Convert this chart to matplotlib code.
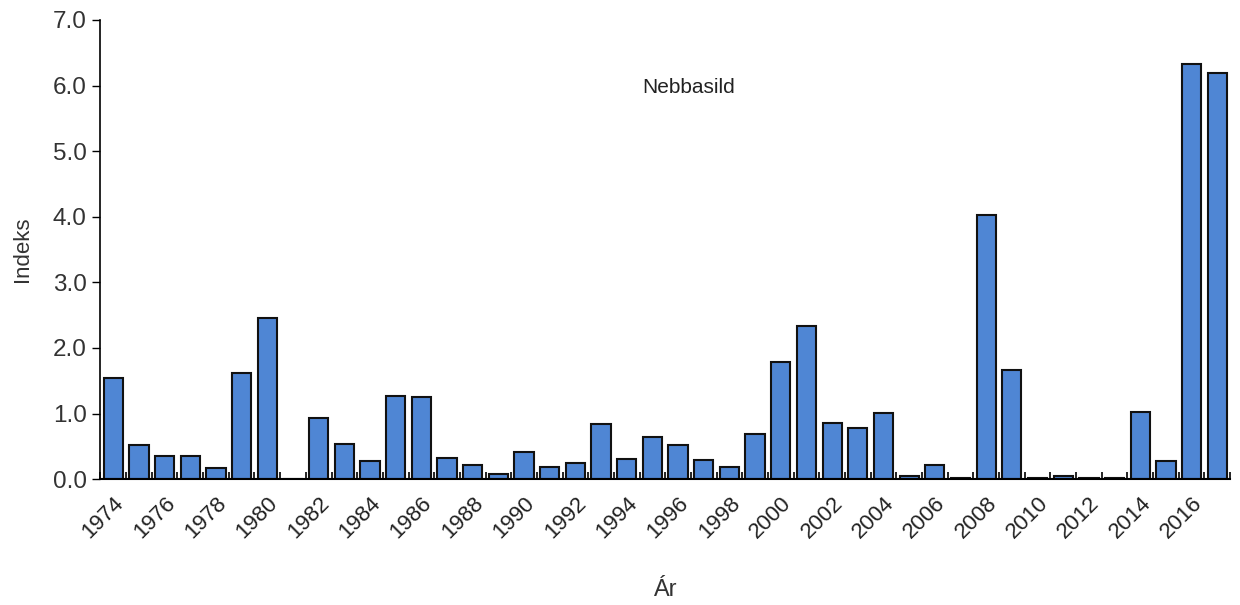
import matplotlib.pyplot as plt
import numpy as np

plt.rcParams['font.family'] = ['Liberation Sans', 'DejaVu Sans']

# Nebbasild indeks per ár
aar = list(range(1974, 2018))
indeks = [1.54, 0.52, 0.35, 0.35, 0.17, 1.62, 2.45, 0.0, 0.93, 0.54,
          0.27, 1.27, 1.25, 0.32, 0.22, 0.08, 0.42, 0.19, 0.25, 0.84,
          0.30, 0.64, 0.52, 0.29, 0.19, 0.69, 1.79, 2.33, 0.86, 0.78,
          1.01, 0.05, 0.22, 0.02, 4.02, 1.67, 0.02, 0.05, 0.02, 0.02,
          1.03, 0.27, 6.33, 6.19]
y_ticks = [0, 1, 2, 3, 4, 5, 6, 7]

fig = plt.figure(figsize=(12.4, 6.05), dpi=100)
ax = fig.add_axes([0.081, 0.208, 0.911, 0.759])

x = np.arange(len(aar))
ax.bar(x, indeks, width=0.75, color='#4F86D4', edgecolor='#111111', linewidth=1.5)

ax.set_xlim(-0.5, len(aar) - 0.5)
ax.set_ylim(0, 7)
ax.set_yticks(y_ticks)
ax.set_yticklabels([f'{v:.1f}' for v in y_ticks], fontsize=17.5, color='#333333')
ax.tick_params(axis='y', direction='out', length=6, width=1, pad=4)

# ár-merki á hvert annað ár
ax.set_xticks(x[::2])
ax.set_xticklabels([str(a) for a in aar[::2]], rotation=45, ha='right',
                   rotation_mode='anchor', fontsize=16, color='#222222')
ax.tick_params(axis='x', length=0, pad=10)
# smá strik milli stabbanna
ax.set_xticks(np.arange(-0.5, len(aar)), minor=True)
ax.tick_params(axis='x', which='minor', direction='in', length=5, width=1.2)

for s in ['top', 'right']:
    ax.spines[s].set_visible(False)
ax.spines['left'].set_linewidth(1.2)
ax.spines['bottom'].set_linewidth(1.5)

ax.set_ylabel('Indeks', fontsize=16, color='#333333', labelpad=14)
ax.set_xlabel('Ár', fontsize=17, color='#333333', labelpad=26)
ax.text(0.521, 0.854, 'Nebbasild', transform=ax.transAxes, ha='center',
        va='center', fontsize=15, color='#222222')

fig.savefig('out.png', dpi=100)
